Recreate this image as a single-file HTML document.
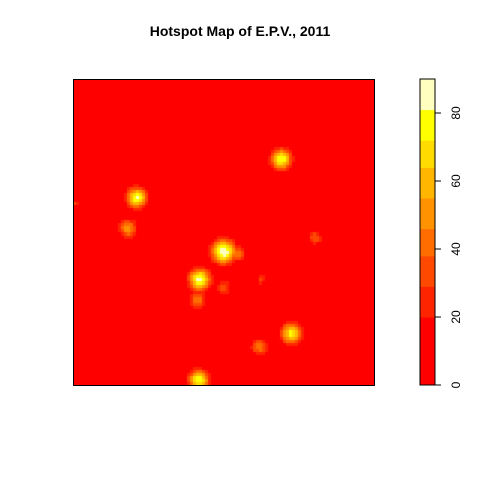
<!DOCTYPE html>
<html><head><meta charset="utf-8">
<style>
body{margin:0;background:#fff;width:480px;height:480px;overflow:hidden;font-family:"Liberation Sans",sans-serif}
#wrap{position:relative;width:480px;height:480px}
#title{position:absolute;top:23px;left:0;width:480px;text-align:center;font-weight:bold;font-size:14px}
#map{position:absolute;left:73px;top:79px}
#box{position:absolute;left:73px;top:79px;width:300px;height:305px;border:1px solid #000}
</style></head><body>
<div id="wrap">
<div id="title">Hotspot Map of E.P.V., 2011</div>
<canvas id="map" width="301" height="306"></canvas>
<div id="box"></div>
<svg id="leg" width="480" height="480" style="position:absolute;left:0;top:0"></svg>
</div>
<script>
// hotspot data (x,y in 0-100 map units)
const hotX = [50.2,42.2,21.3,69.4,72.8,18.3,41.5,62.1,80.7,50.2,41.9,62.8,0.7,54.8];
const hotY = [43.8,34.6,61.4,73.9,17.0,51.3,27.8,12.7,48.4,32.0,1.6,34.6,59.5,43.1];
const hotPeak = [92,86,82,82,74,52,46,46,38,38,80,30,30,42];
const hotSigma = [2.9,2.6,2.5,2.5,2.5,2.3,2.1,2.1,1.8,1.8,2.5,1.3,1.1,2.1];
const breaks = [0,20,29,38,46,55,64,72,81,90];
const colors = ["#FF0000","#FF2400","#FF4900","#FF6D00","#FF9200","#FFB600","#FFDB00","#FFFF00","#FFFFBF"];
const ticks = [0,20,40,60,80];

const N=100, W=301, H=306;
const ctx=document.getElementById('map').getContext('2d');
function colorFor(v){for(let i=breaks.length-2;i>=0;i--){if(v>=breaks[i])return colors[i];}return colors[0];}
for(let i=0;i<N;i++)for(let j=0;j<N;j++){
  const cx=i+0.5, cy=j+0.5; let v=0;
  for(let k=0;k<hotX.length;k++){const dx=cx-hotX[k],dy=cy-hotY[k];v=Math.max(v,hotPeak[k]*Math.exp(-(dx*dx+dy*dy)/(2*hotSigma[k]*hotSigma[k])));}
  ctx.fillStyle=colorFor(v);
  const x0=Math.floor(i*W/N),x1=Math.ceil((i+1)*W/N);
  const y0=Math.floor(H-(j+1)*H/N),y1=Math.ceil(H-j*H/N);
  ctx.fillRect(x0,y0,x1-x0,y1-y0);
}
// legend
const svg=document.getElementById('leg'), NS='http://www.w3.org/2000/svg';
const L=420,R=435,T=79,B=385;
const ly=v=>B-(v-breaks[0])/(breaks[breaks.length-1]-breaks[0])*(B-T);
for(let i=0;i<colors.length;i++){
  const r=document.createElementNS(NS,'rect');
  r.setAttribute('x',L);r.setAttribute('width',R-L);
  r.setAttribute('y',ly(breaks[i+1]));r.setAttribute('height',ly(breaks[i])-ly(breaks[i+1])+0.5);
  r.setAttribute('fill',colors[i]);
  
  
  svg.appendChild(r);
}
const fr=document.createElementNS(NS,'rect');
fr.setAttribute('x',L);fr.setAttribute('y',T);fr.setAttribute('width',R-L);fr.setAttribute('height',B-T);
fr.setAttribute('fill','none');fr.setAttribute('stroke','#000');


svg.appendChild(fr);
ticks.forEach(t=>{
  const y=ly(t);
  const l=document.createElementNS(NS,'line');
  l.setAttribute('x1',R);l.setAttribute('x2',R+6);l.setAttribute('y1',y);l.setAttribute('y2',y);l.setAttribute('stroke','#000');
  
  
  svg.appendChild(l);
  const tx=document.createElementNS(NS,'text');
  tx.setAttribute('transform','translate(460,'+y+') rotate(-90)');
  tx.setAttribute('text-anchor','middle');tx.setAttribute('font-size','12');
  tx.setAttribute('font-family','Liberation Sans, sans-serif');
  tx.textContent=t;
  
  
  svg.appendChild(tx);
});
</script>
</body></html>
